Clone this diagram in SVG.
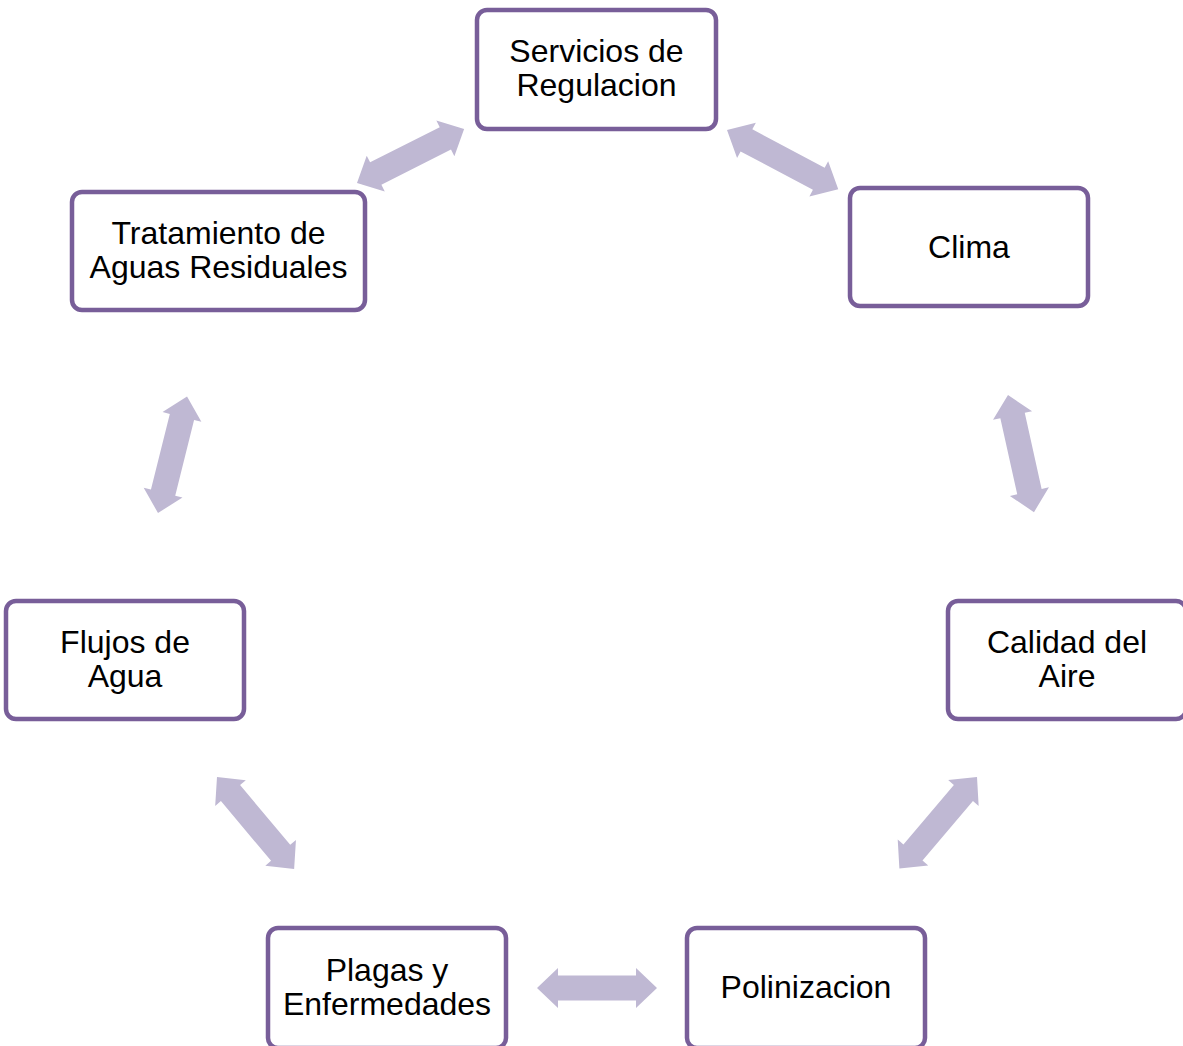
<svg xmlns="http://www.w3.org/2000/svg" width="1183" height="1046" viewBox="0 0 1183 1046">
<style>
.box{fill:#fff;stroke:#785E99;stroke-width:4.5}
.t{font-family:"Liberation Sans",Arial,sans-serif;font-size:32px;fill:#000;text-anchor:middle}
.arr{fill:#BFB8D3}
</style>
<defs>
<polygon id="da" points="0,0 21,-20 21,-12.5 99,-12.5 99,-20 120,0 99,20 99,12.5 21,12.5 21,20"/>
</defs>
<rect width="1183" height="1046" fill="#fff"/>
<g id="connectors" class="arr">
<use href="#da" transform="translate(357,183) rotate(-26.8)"/>
<use href="#da" transform="translate(727,130) rotate(28) scale(1.05,1)"/>
<use href="#da" transform="translate(1008,395) rotate(77.5)"/>
<use href="#da" transform="translate(977,777) rotate(130.3)"/>
<use href="#da" transform="translate(537,988)"/>
<use href="#da" transform="translate(217,777) rotate(50)"/>
<use href="#da" transform="translate(158,513) rotate(-76)"/>
</g>
<g id="servicios"><rect class="box" x="477" y="10" width="239" height="119" rx="10"/><text class="t" x="596.5" y="62">Servicios de</text><text class="t" x="596.5" y="96">Regulacion</text></g>
<g id="clima"><rect class="box" x="850" y="188" width="238" height="118" rx="10"/><text class="t" x="969" y="258">Clima</text></g>
<g id="calidad"><rect class="box" x="948" y="601" width="238" height="118" rx="10"/><text class="t" x="1067" y="653">Calidad del</text><text class="t" x="1067" y="687">Aire</text></g>
<g id="polinizacion"><rect class="box" x="687" y="928" width="238" height="120" rx="10"/><text class="t" x="806" y="998">Polinizacion</text></g>
<g id="plagas"><rect class="box" x="268" y="928" width="238" height="120" rx="10"/><text class="t" x="387" y="981">Plagas y</text><text class="t" x="387" y="1015">Enfermedades</text></g>
<g id="flujos"><rect class="box" x="6" y="601" width="238" height="118" rx="10"/><text class="t" x="125" y="653">Flujos de</text><text class="t" x="125" y="687">Agua</text></g>
<g id="tratamiento"><rect class="box" x="72" y="192" width="293" height="118" rx="10"/><text class="t" x="218.5" y="244">Tratamiento de</text><text class="t" x="218.5" y="278">Aguas Residuales</text></g>
</svg>
